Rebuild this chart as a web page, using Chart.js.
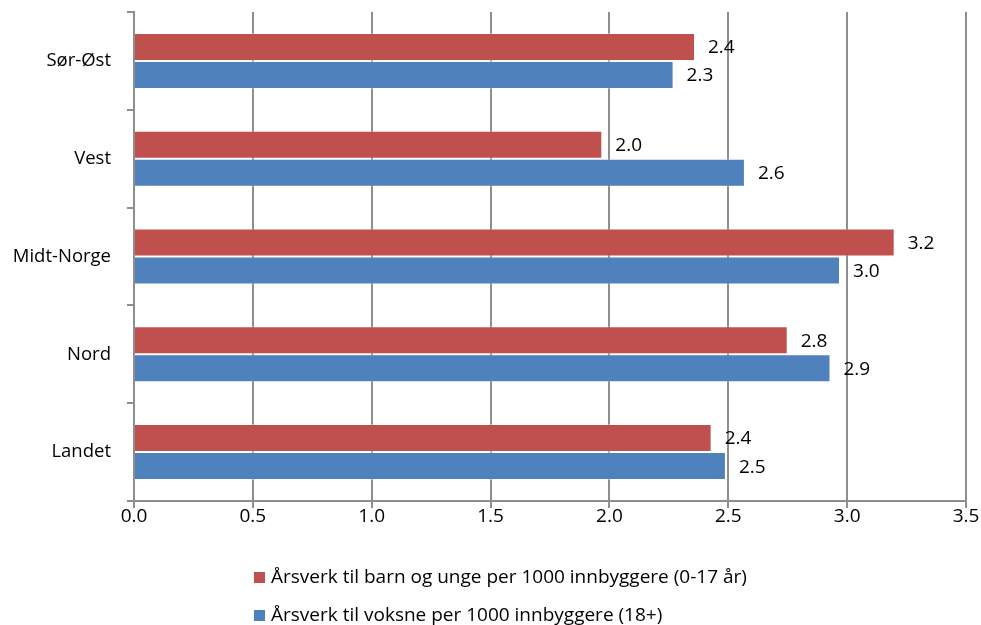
<!DOCTYPE html>
<html>
<head>
<meta charset="utf-8">
<script src="https://cdn.jsdelivr.net/npm/chart.js@4.4.0/dist/chart.umd.min.js"></script>
<style>
  html, body { margin: 0; padding: 0; background: #fff; }
  #wrap { width: 981px; height: 625px; }
</style>
</head>
<body>
<div id="wrap"><canvas id="chart"></canvas></div>
<script>
'use strict';

// data
var regions = ['Sør-Øst', 'Vest', 'Midt-Norge', 'Nord', 'Landet'];
var barnUnge = [2.36, 1.97, 3.20, 2.75, 2.43];
var voksne = [2.27, 2.57, 2.97, 2.93, 2.49];
var seriesNames = [
    'Årsverk til barn og unge per 1000 innbyggere (0-17 år)',
    'Årsverk til voksne per 1000 innbyggere (18+)'
];

var red = '#C0504D';
var blue = '#4F81BD';
var gridColor = '#8e8e8e';
var font = '"Open Sans", sans-serif';

// value labels at the end of each bar
var valueLabels = {
    id: 'valueLabels',
    afterDatasetsDraw: function (chart) {
        var ctx = chart.ctx;
        ctx.save();
        ctx.font = '19px ' + font;
        ctx.fillStyle = '#000';
        ctx.textAlign = 'left';
        ctx.textBaseline = 'middle';
        chart.data.datasets.forEach(function (ds, i) {
            chart.getDatasetMeta(i).data.forEach(function (bar, j) {
                ctx.fillText(ds.data[j].toFixed(1), bar.x + 13, bar.y + 1);
            });
        });
        ctx.restore();
    }
};

// legend, one series per row
var rowLegend = {
    id: 'rowLegend',
    afterDraw: function (chart) {
        var ctx = chart.ctx;
        var rows = [577, 615];
        ctx.save();
        ctx.font = '19px ' + font;
        ctx.textAlign = 'left';
        ctx.textBaseline = 'middle';
        chart.data.datasets.forEach(function (ds, i) {
            var y = rows[i];
            ctx.fillStyle = ds.backgroundColor;
            ctx.fillRect(254, y - 5, 11, 11);
            ctx.fillStyle = '#000';
            ctx.fillText(ds.label, 271, y + 1);
        });
        ctx.restore();
    }
};

new Chart(document.getElementById('chart'), {
    type: 'bar',
    data: {
        labels: regions,
        datasets: [
            {
                label: seriesNames[0],
                data: barnUnge,
                backgroundColor: red,
                borderColor: 'rgba(255,255,255,0.35)',
                borderWidth: 1
            },
            {
                label: seriesNames[1],
                data: voksne,
                backgroundColor: blue,
                borderColor: 'rgba(255,255,255,0.35)',
                borderWidth: 1
            }
        ]
    },
    options: {
        indexAxis: 'y',
        responsive: true,
        maintainAspectRatio: false,
        animation: false,
        categoryPercentage: 0.573,
        barPercentage: 1.0,
        layout: { padding: { top: 12, right: 15, bottom: 0, left: 0 } },
        plugins: {
            legend: { display: false },
            tooltip: { enabled: false }
        },
        scales: {
            x: {
                min: 0,
                max: 3.5,
                ticks: {
                    stepSize: 0.5,
                    padding: -3,
                    color: '#000',
                    font: { family: font, size: 19 },
                    callback: function (v) { return Number(v).toFixed(1); }
                },
                grid: { color: gridColor, lineWidth: 2, tickLength: 7 },
                border: { color: gridColor, width: 2 },
                afterFit: function (s) { s.height = 124; }
            },
            y: {
                ticks: {
                    padding: 16,
                    color: '#000',
                    font: { family: font, size: 18.5 }
                },
                grid: { drawOnChartArea: false, color: gridColor, lineWidth: 2, tickLength: 7 },
                border: { color: gridColor, width: 2 },
                afterFit: function (s) {
                    s.width = 134;
                    s.paddingTop = 0;
                    s.paddingBottom = 0;
                }
            }
        }
    },
    plugins: [valueLabels, rowLegend]
});
</script>
</body>
</html>
